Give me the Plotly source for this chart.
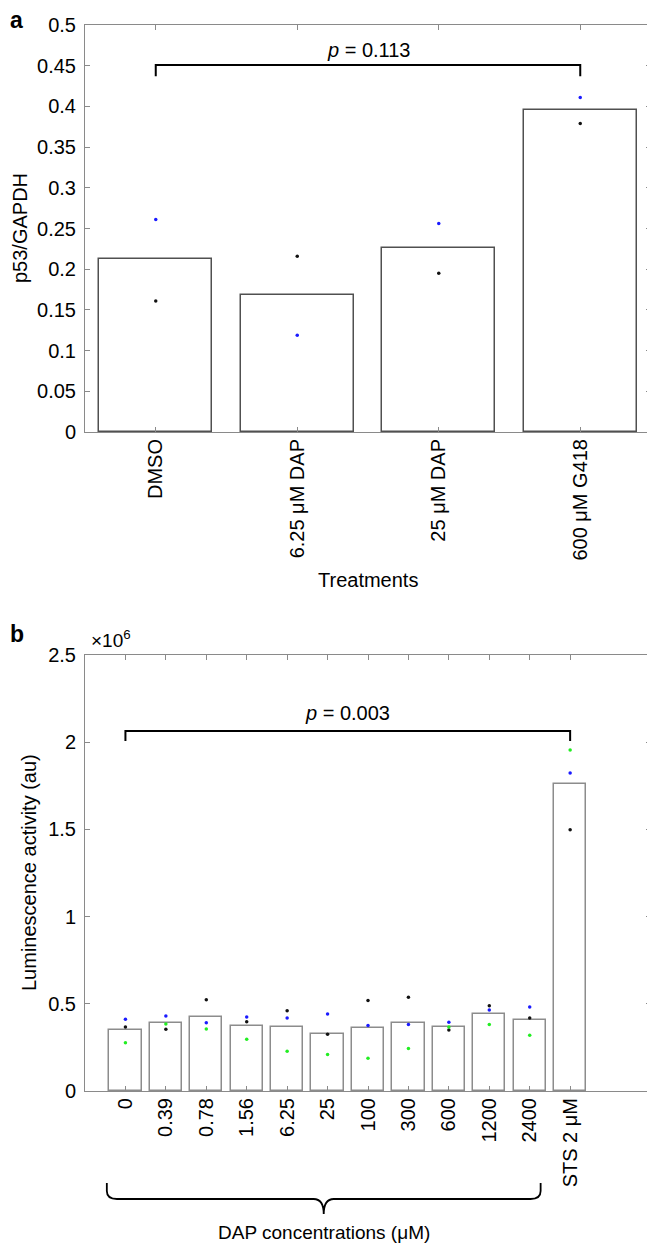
import plotly.graph_objects as go

# ---------------- data ----------------
cats_a = ["DMSO", "6.25 μM DAP", "25 μM DAP", "600 μM G418"]
bar_a = [0.212, 0.168, 0.226, 0.395]
blue_a = [0.261, 0.119, 0.256, 0.411]
black_a = [0.161, 0.216, 0.195, 0.379]
yticks_a = [0, 0.05, 0.1, 0.15, 0.2, 0.25, 0.3, 0.35, 0.4, 0.45, 0.5]
yticktext_a = ["0", "0.05", "0.1", "0.15", "0.2", "0.25", "0.3", "0.35", "0.4", "0.45", "0.5"]

cats_b = ["0", "0.39", "0.78", "1.56", "6.25", "25", "100", "300", "600",
          "1200", "2400", "STS 2 μM"]
bar_b = [0.352, 0.388, 0.426, 0.375, 0.369, 0.325, 0.359, 0.388, 0.369, 0.443, 0.405, 1.759]
blue_b = [0.411, 0.430, 0.392, 0.424, 0.418, 0.441, 0.375, 0.382, 0.394, 0.464, 0.481, 1.824]
black_b = [0.367, 0.354, 0.523, 0.397, 0.460, 0.325, 0.519, 0.538, 0.350, 0.489, 0.418, 1.498]
green_b = [0.276, 0.384, 0.356, 0.297, 0.228, 0.209, 0.188, 0.243, 0.367, 0.382, 0.319, 1.955]
yticks_b = [0, 0.5, 1, 1.5, 2, 2.5]
yticktext_b = ["0", "0.5", "1", "1.5", "2", "2.5"]

p_a = "<i>p</i> = 0.113"
p_b = "<i>p</i> = 0.003"

# ---------------- layout helpers ----------------
W, H = 655, 1249
def fx(x):
    return x / W
def fy(y):
    return 1 - y / H

FONT = "Liberation Sans, Arial, Helvetica, sans-serif"
FS = 20
AXC = "#8a8a8a"

xa = list(range(1, len(cats_a) + 1))
xb = list(range(1, len(cats_b) + 1))

fig = go.Figure()

# panel a
fig.add_trace(go.Bar(x=xa, y=bar_a, width=0.8, marker=dict(color="white", line=dict(color="#505050", width=1.5)),
                     xaxis="x", yaxis="y", showlegend=False))
fig.add_trace(go.Scatter(x=xa, y=blue_a, mode="markers", marker=dict(color="#1a1aff", size=3.5),
                         xaxis="x", yaxis="y", showlegend=False))
fig.add_trace(go.Scatter(x=xa, y=black_a, mode="markers", marker=dict(color="#111111", size=3.5),
                         xaxis="x", yaxis="y", showlegend=False))

# panel b
fig.add_trace(go.Bar(x=xb, y=bar_b, width=0.8, marker=dict(color="white", line=dict(color="#8c8c8c", width=1.5)),
                     xaxis="x2", yaxis="y2", showlegend=False))
fig.add_trace(go.Scatter(x=xb, y=blue_b, mode="markers", marker=dict(color="#1a1aff", size=3.5),
                         xaxis="x2", yaxis="y2", showlegend=False))
fig.add_trace(go.Scatter(x=xb, y=black_b, mode="markers", marker=dict(color="#111111", size=3.5),
                         xaxis="x2", yaxis="y2", showlegend=False))
fig.add_trace(go.Scatter(x=xb, y=green_b, mode="markers", marker=dict(color="#22ee22", size=3.5),
                         xaxis="x2", yaxis="y2", showlegend=False))

common_ax = dict(showline=True, linecolor=AXC, linewidth=1, mirror="ticks", ticks="inside",
                 ticklen=5, tickcolor=AXC, tickwidth=1, showgrid=False, zeroline=False,
                 tickfont=dict(family=FONT, size=FS, color="black"))

fig.update_layout(
    width=W, height=H,
    margin=dict(l=0, r=0, t=0, b=0, autoexpand=False),
    paper_bgcolor="white", plot_bgcolor="white",
    font=dict(family=FONT, size=FS, color="black"),
    bargap=0,
    xaxis=dict(domain=[fx(77), fx(643)], anchor="y", range=[0.5, 4.5], tickmode="array",
               tickvals=xa, ticktext=cats_a, tickangle=-90, ticklabelstandoff=-2, **common_ax),
    yaxis=dict(domain=[fy(424), fy(17)], anchor="x", range=[0, 0.5], tickmode="array",
               tickvals=yticks_a, ticktext=yticktext_a, ticklabelstandoff=4, **common_ax),
    xaxis2=dict(domain=[fx(77), fx(643)], anchor="y2", range=[0, 14], tickmode="array",
                tickvals=xb, ticktext=cats_b, tickangle=-90, ticklabelstandoff=-2, **common_ax),
    yaxis2=dict(domain=[fy(1083), fy(647)], anchor="x2", range=[0, 2.5], tickmode="array",
                tickvals=yticks_b, ticktext=yticktext_b, ticklabelstandoff=4, **common_ax),
)

shapes = []
# bracket a
ba_y, ba_end = 0.451, 0.437
shapes.append(dict(type="path", xref="x", yref="y",
                   path=f"M {xa[0]},{ba_end} L {xa[0]},{ba_y} L {xa[-1]},{ba_y} L {xa[-1]},{ba_end}",
                   line=dict(color="black", width=2)))
# bracket b
bb_y, bb_end = 2.064, 2.007
shapes.append(dict(type="path", xref="x2", yref="y2",
                   path=f"M {xb[0]},{bb_end} L {xb[0]},{bb_y} L {xb[-1]},{bb_y} L {xb[-1]},{bb_end}",
                   line=dict(color="black", width=2)))
# curly brace under DAP concentrations
xl, xr = 0.54, 11.27
xc = (xl + xr) / 2
rx = 0.25
yt, ym, yk = fy(1175), fy(1191), fy(1206)
yr = fy(1183)
brace = (f"M {xl},{yt} L {xl},{yr} Q {xl},{ym} {xl+rx},{ym} L {xc-rx},{ym} "
         f"Q {xc},{ym} {xc},{yk} Q {xc},{ym} {xc+rx},{ym} L {xr-rx},{ym} "
         f"Q {xr},{ym} {xr},{yr} L {xr},{yt}")
shapes.append(dict(type="path", xref="x2", yref="paper", path=brace,
                   line=dict(color="black", width=1.8)))
fig.update_layout(shapes=shapes)

ann = []
ann.append(dict(x=(xa[0] + xa[-1]) / 2, y=0.469, xref="x", yref="y", text=p_a, showarrow=False,
                font=dict(size=FS), xanchor="center", yanchor="middle"))
ann.append(dict(x=(xb[0] + xb[-1]) / 2, y=2.17, xref="x2", yref="y2", text=p_b, showarrow=False,
                font=dict(size=FS), xanchor="center", yanchor="middle"))
ann.append(dict(x=fx(0), y=fy(-3), xref="paper", yref="paper", text="<b>a</b>", showarrow=False,
                font=dict(size=23), xanchor="left", yanchor="top"))
ann.append(dict(x=fx(0), y=fy(611), xref="paper", yref="paper", text="<b>b</b>", showarrow=False,
                font=dict(size=23), xanchor="left", yanchor="top"))
ann.append(dict(x=fx(12), y=fy(220), xref="paper", yref="paper", text="p53/GAPDH", showarrow=False,
                textangle=-90, font=dict(size=FS), xanchor="center", yanchor="middle"))
ann.append(dict(x=fx(21), y=fy(865), xref="paper", yref="paper", text="Luminescence activity (au)",
                showarrow=False, textangle=-90, font=dict(size=FS), xanchor="center", yanchor="middle"))
ann.append(dict(x=fx(360), y=fy(572), xref="paper", yref="paper", text="Treatments", showarrow=False,
                font=dict(size=FS), xanchor="center", yanchor="middle"))
ann.append(dict(x=xc, y=fy(1224), xref="x2", yref="paper", text="DAP concentrations (μM)", showarrow=False,
                font=dict(size=19), xanchor="center", yanchor="middle"))
ann.append(dict(x=fx(81), y=fy(645), xref="paper", yref="paper", text="×10<sup>6</sup>", showarrow=False,
                font=dict(size=19), xanchor="left", yanchor="bottom"))
fig.update_layout(annotations=ann)

fig.write_html("out.html")
